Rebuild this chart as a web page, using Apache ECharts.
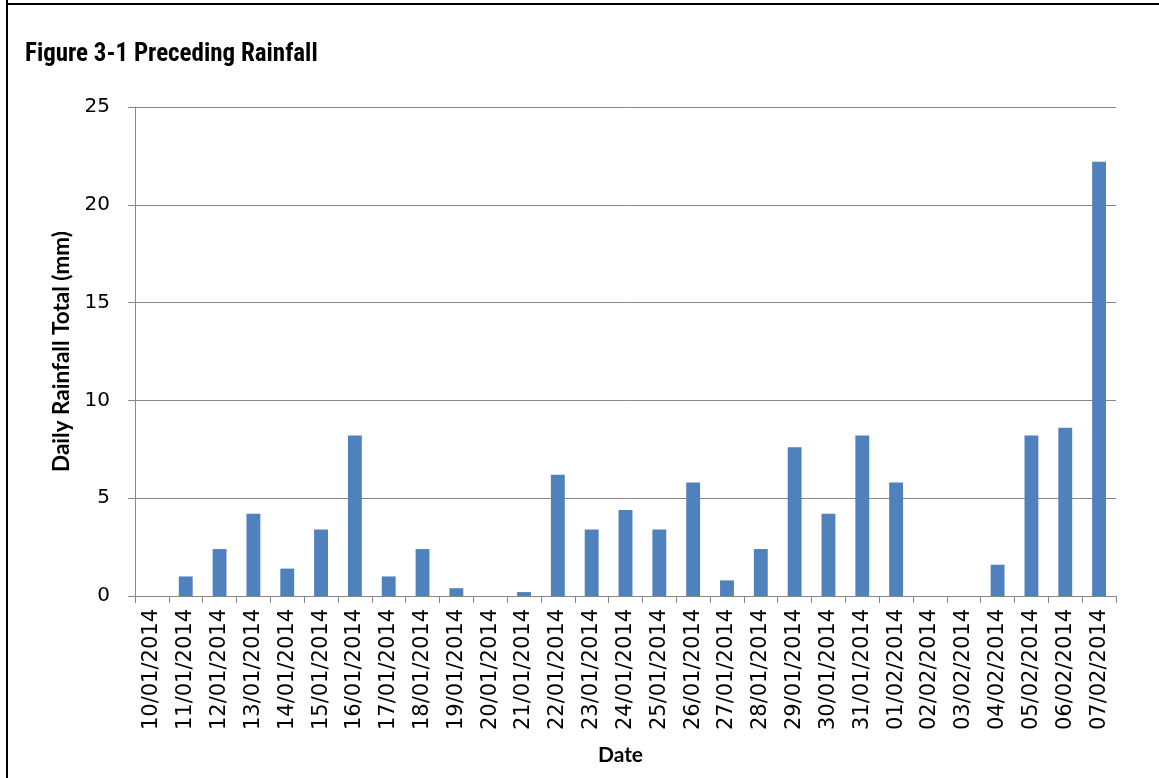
<!DOCTYPE html>
<html>
<head>
<meta charset="utf-8">
<style>
  html, body { margin: 0; padding: 0; background: #ffffff; }
  #chart { width: 1159px; height: 778px; }
</style>
<script src="https://cdn.jsdelivr.net/npm/echarts@6/dist/echarts.min.js"></script>
</head>
<body>
<div id="chart"></div>
<script>
const categories = [
  '10/01/2014','11/01/2014','12/01/2014','13/01/2014','14/01/2014','15/01/2014',
  '16/01/2014','17/01/2014','18/01/2014','19/01/2014','20/01/2014','21/01/2014',
  '22/01/2014','23/01/2014','24/01/2014','25/01/2014','26/01/2014','27/01/2014',
  '28/01/2014','29/01/2014','30/01/2014','31/01/2014','01/02/2014','02/02/2014',
  '03/02/2014','04/02/2014','05/02/2014','06/02/2014','07/02/2014'
];
const rainfall = [
  0, 1.0, 2.4, 4.2, 1.4, 3.4,
  8.2, 1.0, 2.4, 0.4, 0, 0.2,
  6.2, 3.4, 4.4, 3.4, 5.8, 0.8,
  2.4, 7.6, 4.2, 8.2, 5.8, 0,
  0, 1.6, 8.2, 8.6, 22.2
];
const yTicks = [0, 5, 10, 15, 20, 25];
const titleText = 'Figure 3-1 Preceding Rainfall';
const yName = 'Daily Rainfall Total (mm)';
const xName = 'Date';

const chart = echarts.init(document.getElementById('chart'), null, { renderer: 'canvas' });
const tickFont = '"DejaVu Sans", "Open Sans", sans-serif';
const nameFont = 'Lato, "Open Sans", "DejaVu Sans", sans-serif';
chart.setOption({
  animation: false,
  backgroundColor: '#ffffff',
  title: {
    text: titleText,
    left: 20,
    top: 37,
    textStyle: {
      fontFamily: '"Liberation Sans Narrow", "Roboto Condensed", Roboto, sans-serif',
      fontWeight: 'bold',
      fontSize: 25,
      color: '#000000'
    }
  },
  graphic: [
    { type: 'line', shape: { x1: 7, y1: 0, x2: 7, y2: 778 }, style: { stroke: '#000', lineWidth: 2 } },
    { type: 'line', shape: { x1: 6, y1: 4, x2: 1159, y2: 4 }, style: { stroke: '#000', lineWidth: 2 } }
  ],
  grid: { left: 135, right: 43, top: 107, bottom: 182 },
  xAxis: {
    type: 'category',
    data: categories,
    name: xName,
    nameLocation: 'middle',
    nameGap: 149,
    nameTextStyle: { fontFamily: nameFont, fontWeight: 'bold', fontSize: 21, color: '#000', padding: [0, 10, 0, 0] },
    axisLine: { lineStyle: { color: '#888888', width: 1 } },
    axisTick: { show: true, alignWithLabel: false, length: 7, lineStyle: { color: '#888888' } },
    axisLabel: {
      rotate: 90,
      interval: 0,
      margin: 13,
      fontFamily: tickFont,
      fontSize: 21,
      color: '#000'
    }
  },
  yAxis: {
    type: 'value',
    min: 0,
    max: 25,
    interval: 5,
    name: yName,
    nameLocation: 'middle',
    nameGap: 62,
    nameRotate: 90,
    nameTextStyle: { fontFamily: nameFont, fontWeight: 'bold', fontSize: 22.5, color: '#000' },
    axisLine: { show: true, lineStyle: { color: '#888888', width: 1 } },
    axisTick: { show: true, length: 7, lineStyle: { color: '#888888' } },
    axisLabel: {
      margin: 25,
      fontFamily: tickFont,
      fontSize: 20,
      color: '#000',
      formatter: function (v) { return yTicks.indexOf(v) >= 0 ? String(v) : ''; }
    },
    splitLine: { show: true, lineStyle: { color: '#888888', width: 1 } }
  },
  series: [{
    type: 'bar',
    data: rainfall,
    barWidth: '41%',
    itemStyle: { color: '#4F81BD', borderWidth: 0 }
  }]
});
</script>
</body>
</html>
